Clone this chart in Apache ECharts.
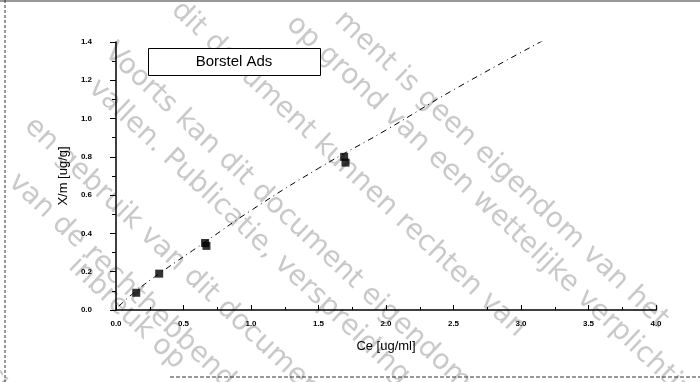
<!DOCTYPE html>
<html><head><meta charset="utf-8">
<script src="https://cdn.jsdelivr.net/npm/echarts@6/dist/echarts.min.js"></script>
<style>html,body{margin:0;padding:0;background:#fff}#c{width:700px;height:382px}</style>
</head><body><div id="c"></div>
<script>
// measured data points (Ce, X/m)
const ceValues = [0.15, 0.32, 0.66, 0.67, 1.69, 1.70];
const xmValues = [0.09, 0.19, 0.35, 0.335, 0.80, 0.77];
// fitted dashed line
const fitCe = [0.02, 0.15, 0.32, 0.67, 1.0, 1.5, 2.0, 2.5, 3.17];
const fitXm = [0.02, 0.10, 0.19, 0.36, 0.52, 0.74, 0.94, 1.15, 1.41];
const legendText = 'Borstel Ads';
const xName = 'Ce [ug/ml]';
const yName = 'X/m [ug/g]';
// watermark lines
const watermarkLines = [
  'ment is geen eigendom van het',
  'op grond van een wettelijke verplichting',
  'dit document kunnen rechten van',
  'Voorts kan dit document eigendomsrechten',
  'vallen. Publicatie, verspreiding onder',
  'en gebruik van dit document',
  'van de rechthebbende',
  'inbreuk op',
  'cument'
];
const wmStarts = [[348,6],[300,10],[185,-4],[118,38],[102,74],[38,112],[22,168],[82,252],[-2,360]];

const chart = echarts.init(document.getElementById('c'));
const scatterData = ceValues.map((v,i)=>[v, xmValues[i]]);
const fitData = fitCe.map((v,i)=>[v, fitXm[i]]);
const lbl = {color:'#000', fontSize:8, fontFamily:'Liberation Sans', fontWeight:'bold'};
const graphics = watermarkLines.map((t,i)=>({
  type:'text', x:wmStarts[i][0], y:wmStarts[i][1], rotation:-0.756, z:-10, silent:true,
  style:{text:t, fill:'#c9c9c9', font:'28px "DejaVu Sans"'}
}));
graphics.push(
  {type:'rect', shape:{x:148.5,y:48.5,width:172,height:27}, style:{fill:'#fff',stroke:'#000',lineWidth:1}, z:10},
  {type:'text', x:234, y:62, style:{text:legendText, fill:'#000', font:'15px "Liberation Sans"', align:'center', verticalAlign:'middle'}, z:11},
  {type:'line', shape:{x1:5,y1:0,x2:5,y2:382}, style:{stroke:'#333', lineWidth:1, lineDash:[3,2]}},
  {type:'line', shape:{x1:0,y1:1,x2:700,y2:1}, style:{stroke:'#333', lineWidth:1}},
  {type:'line', shape:{x1:170,y1:377,x2:700,y2:377}, style:{stroke:'#333', lineWidth:1, lineDash:[4,2]}}
);
chart.setOption({
  animation:false,
  backgroundColor:'#fff',
  grid:{left:116, right:44, top:42, bottom:72},
  xAxis:{type:'value', min:0, max:4, interval:0.5,
    name:xName, nameLocation:'middle', nameGap:30,
    nameTextStyle:{color:'#000', fontSize:13, fontFamily:'Liberation Sans'},
    axisLine:{show:true, lineStyle:{color:'#000', width:1.5}},
    axisTick:{show:true, inside:true, length:5, lineStyle:{color:'#000'}},
    minorTick:{show:true, splitNumber:2, length:3, lineStyle:{color:'#000'}},
    splitLine:{show:false},
    axisLabel:{...lbl, margin:10, formatter:v=>v.toFixed(1)}},
  yAxis:{type:'value', min:0, max:1.4, interval:0.2,
    name:yName, nameLocation:'middle', nameGap:42, nameRotate:90,
    nameTextStyle:{color:'#000', fontSize:13, fontFamily:'Liberation Sans'},
    axisLine:{show:true, lineStyle:{color:'#000', width:1.5}},
    axisTick:{show:true, inside:false, length:6, lineStyle:{color:'#000'}},
    minorTick:{show:true, splitNumber:2, length:4, lineStyle:{color:'#000'}},
    splitLine:{show:false},
    axisLabel:{...lbl, margin:24, formatter:v=>v.toFixed(1)}},
  graphic:graphics,
  series:[
    {type:'line', data:fitData, showSymbol:false, smooth:true, z:3,
      lineStyle:{color:'#000', width:1, type:[6,4,1,4]}},
    {type:'scatter', data:scatterData, symbol:'rect', symbolSize:8, z:4,
      itemStyle:{color:'#000'}}
  ]
});
</script></body></html>
